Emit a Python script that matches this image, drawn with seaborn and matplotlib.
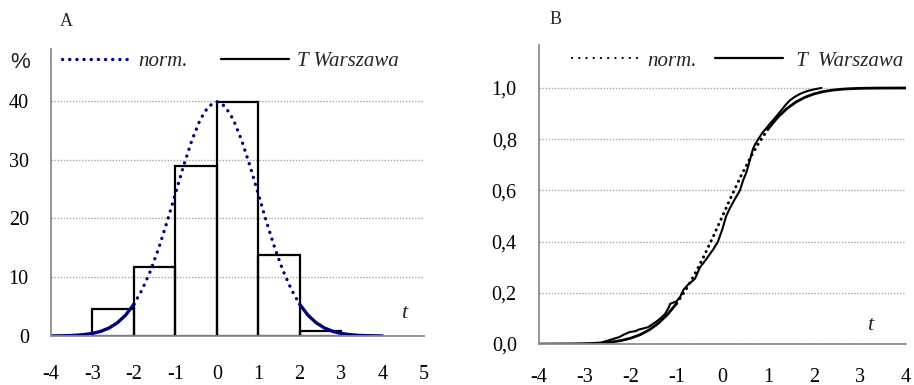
import numpy as np
import pandas as pd
import matplotlib
matplotlib.use("Agg")
import matplotlib.pyplot as plt
from matplotlib.lines import Line2D
import seaborn as sns

# ---------------- data ----------------
# Panel A: histogram of standardised temperature (Warszawa), % per unit bin
hist_edges = [-3, -2, -1, 0, 1, 2, 3]
hist_centers = [-2.5, -1.5, -0.5, 0.5, 1.5, 2.5]
hist_pct = [4.6, 11.8, 29.0, 39.9, 13.8, 0.8]

# normal density (in %) read along t
norm_t = [-4.0, -3.8, -3.6, -3.4, -3.2, -3.0, -2.8, -2.6, -2.4, -2.2, -2.0,
          -1.8, -1.6, -1.4, -1.2, -1.0, -0.8, -0.6, -0.4, -0.2, 0.0,
          0.2, 0.4, 0.6, 0.8, 1.0, 1.2, 1.4, 1.6, 1.8, 2.0,
          2.2, 2.4, 2.6, 2.8, 3.0, 3.2, 3.4, 3.6, 3.8, 4.0]
norm_pdf = [0.01, 0.03, 0.06, 0.12, 0.24, 0.44, 0.79, 1.36, 2.24, 3.55, 5.40,
            7.90, 11.09, 14.97, 19.42, 24.20, 28.97, 33.32, 36.83, 39.10, 39.89,
            39.10, 36.83, 33.32, 28.97, 24.20, 19.42, 14.97, 11.09, 7.90, 5.40,
            3.55, 2.24, 1.36, 0.79, 0.44, 0.24, 0.12, 0.06, 0.03, 0.01]
# normal distribution function
norm_cdf = [0.00003, 0.00007, 0.00016, 0.00034, 0.00069, 0.00135, 0.00256, 0.00466,
            0.00820, 0.01390, 0.02275, 0.03593, 0.05480, 0.08076, 0.11507, 0.15866,
            0.21186, 0.27425, 0.34458, 0.42074, 0.50000, 0.57926, 0.65542, 0.72575,
            0.78814, 0.84134, 0.88493, 0.91924, 0.94520, 0.96407, 0.97725, 0.98610,
            0.99180, 0.99534, 0.99744, 0.99865, 0.99931, 0.99966, 0.99984, 0.99993,
            0.99997]

# Panel B: empirical distribution function (T Warszawa)
emp_t = [-2.7, -2.6, -2.5, -2.38, -2.25, -2.16, -2.02, -1.9, -1.83, -1.7, -1.62,
         -1.52, -1.43, -1.33, -1.25, -1.18, -1.14, -1.0, -0.92, -0.85, -0.75,
         -0.6, -0.49, -0.4, -0.3, -0.2, -0.1, -0.02, 0.0, 0.08, 0.16, 0.25,
         0.38, 0.45, 0.52, 0.6, 0.66, 0.71, 0.78, 0.87, 0.96, 1.03, 1.11, 1.2,
         1.29, 1.38, 1.47, 1.58, 1.69, 1.8, 1.91, 2.03, 2.16]
emp_F = [0.0, 0.008, 0.013, 0.02, 0.027, 0.036, 0.047, 0.05, 0.056, 0.062, 0.066,
         0.078, 0.089, 0.104, 0.118, 0.14, 0.157, 0.167, 0.185, 0.212, 0.232,
         0.255, 0.30, 0.32, 0.345, 0.37, 0.40, 0.44, 0.45, 0.50, 0.53, 0.56,
         0.60, 0.64, 0.67, 0.72, 0.76, 0.78, 0.80, 0.825, 0.844, 0.86, 0.876, 0.895,
         0.915, 0.935, 0.952, 0.966, 0.977, 0.985, 0.991, 0.996, 1.0]

xticks_A = [-4, -3, -2, -1, 0, 1, 2, 3, 4, 5]
yticks_A = [0, 10, 20, 30, 40]
xticks_B = [-4, -3, -2, -1, 0, 1, 2, 3, 4]
yticks_B = [0.0, 0.2, 0.4, 0.6, 0.8, 1.0]
ylabels_B = ["0,0", "0,2", "0,4", "0,6", "0,8", "1,0"]

# ---------------- style ----------------
sns.set_style("white")
plt.rcParams["font.family"] = ["Liberation Serif", "DejaVu Serif"]

NAVY = "#000080"
GRAY = "#8c8c8c"
GRID = "#a6a6a6"
TICK_FS = 14.5
LEG_FS = 15

fig = plt.figure(figsize=(9.14, 3.85), dpi=100)
fig.patch.set_facecolor("white")

axA = fig.add_axes([51 / 914, 49 / 385, 373 / 914, 287 / 385])
axB = fig.add_axes([539 / 914, 41 / 385, 367 / 914, 299 / 385])


def style_axes(ax, xpad):
    for s in ["top", "right"]:
        ax.spines[s].set_visible(False)
    for s in ["left", "bottom"]:
        ax.spines[s].set_color(GRAY)
        ax.spines[s].set_linewidth(1.3)
    ax.tick_params(axis="both", direction="out", length=4, width=1, color=GRAY,
                   labelsize=TICK_FS, labelcolor="black")
    ax.tick_params(axis="x", pad=xpad)
    ax.tick_params(axis="y", pad=12)
    ax.yaxis.grid(True, color=GRID, linestyle=(0, (1, 1.2)), linewidth=1)
    ax.xaxis.grid(False)
    ax.set_axisbelow(True)
    ax.set_xlabel("")
    ax.set_ylabel("")


t_arr = np.array(norm_t)
pdf_arr = np.array(norm_pdf)
cdf_arr = np.array(norm_cdf)

# ---------------- Panel A ----------------
sns.histplot(x=hist_centers, weights=hist_pct, bins=hist_edges, stat="count",
             fill=False, color="black", linewidth=1.6, ax=axA)

dotA = (0, (0.05, 2.1))
midA = (t_arr >= -2.0) & (t_arr <= 2.0)
sns.lineplot(x=t_arr[t_arr <= -2.0], y=pdf_arr[t_arr <= -2.0], color=NAVY,
             linewidth=2.4, errorbar=None, ax=axA)
sns.lineplot(x=t_arr[t_arr >= 2.0], y=pdf_arr[t_arr >= 2.0], color=NAVY,
             linewidth=2.4, errorbar=None, ax=axA)
sns.lineplot(x=t_arr[midA], y=pdf_arr[midA], color=NAVY, linewidth=2.4,
             linestyle=dotA, dash_capstyle="round", errorbar=None, ax=axA)

axA.set_xlim(-4, 5)
axA.set_ylim(0, 48.85)
axA.set_xticks(xticks_A)
axA.set_xticklabels([str(v) for v in xticks_A])
axA.set_yticks(yticks_A)
axA.set_yticklabels([str(v) for v in yticks_A])
style_axes(axA, 17)

legA_handles = [
    Line2D([], [], color=NAVY, linewidth=2.4, linestyle=dotA, dash_capstyle="round"),
    Line2D([], [], color="black", linewidth=1.6),
]
axA.legend(legA_handles, ["norm.", "T Warszawa"], loc="center left",
           bbox_to_anchor=(0.0295, 0.958), ncol=2, frameon=False,
           borderpad=0, borderaxespad=0, handlelength=3.27, handletextpad=0.38,
           columnspacing=1.6,
           prop={"family": "Liberation Serif", "style": "italic", "size": LEG_FS})
axA.text(4.52, 3.9, "t", fontsize=16, style="italic", ha="center", va="center")

# ---------------- Panel B ----------------
dotB = (0, (0.05, 1.9))
midB = (t_arr >= -1.0) & (t_arr <= 1.0)
sns.lineplot(x=emp_t, y=emp_F, color="black", linewidth=1.5, errorbar=None, ax=axB)
sns.lineplot(x=t_arr[t_arr <= -1.0], y=cdf_arr[t_arr <= -1.0], color="black",
             linewidth=2.0, errorbar=None, ax=axB)
sns.lineplot(x=t_arr[t_arr >= 1.0], y=cdf_arr[t_arr >= 1.0], color="black",
             linewidth=2.0, errorbar=None, ax=axB)
sns.lineplot(x=t_arr[midB], y=cdf_arr[midB], color="black", linewidth=2.2,
             linestyle=dotB, dash_capstyle="round", errorbar=None, ax=axB)

axB.set_xlim(-4, 4)
axB.set_ylim(0, 1.168)
axB.set_xticks(xticks_B)
axB.set_xticklabels([str(v) for v in xticks_B])
axB.set_yticks(yticks_B)
axB.set_yticklabels(ylabels_B)
style_axes(axB, 13)

legB_handles = [
    Line2D([], [], color="black", linewidth=1.6, linestyle=(0, (0.05, 3.2)),
           dash_capstyle="round"),
    Line2D([], [], color="black", linewidth=1.6),
]
axB.legend(legB_handles, ["norm.", " T  Warszawa"], loc="center left",
           bbox_to_anchor=(0.0899, 0.9465), ncol=2, frameon=False,
           borderpad=0, borderaxespad=0, handlelength=3.25, handletextpad=0.38,
           columnspacing=0.87,
           prop={"family": "Liberation Serif", "style": "italic", "size": LEG_FS})
axB.text(3.21, 0.074, "t", fontsize=16, style="italic", ha="center", va="center")

# ---------------- figure texts ----------------
fig.text(20 / 914, 1 - 63 / 385, "%", family=["Liberation Sans", "DejaVu Sans"],
         fontsize=16, ha="center", va="center")
fig.text(66 / 914, 1 - 22 / 385, "A", fontsize=13, ha="center", va="center")
fig.text(556 / 914, 1 - 20 / 385, "B", fontsize=13, ha="center", va="center")

fig.savefig("out.png", dpi=100, facecolor="white")
